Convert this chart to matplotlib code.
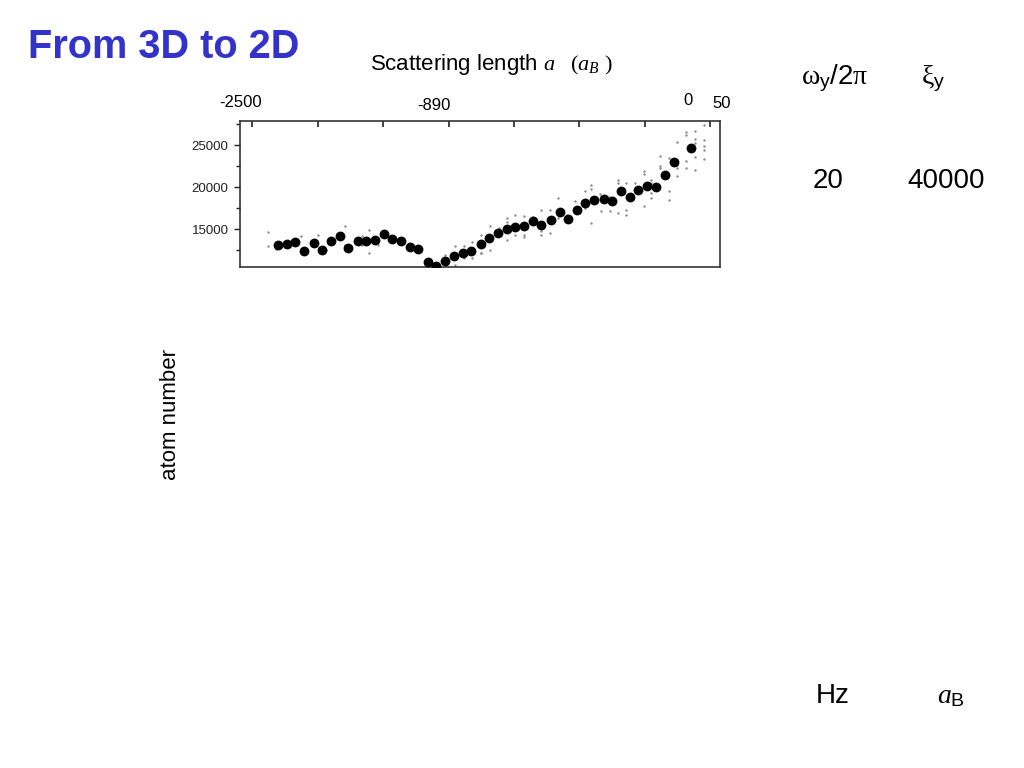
import matplotlib
matplotlib.use("Agg")
import matplotlib.pyplot as plt
from matplotlib.ticker import FixedLocator

plt.rcParams['font.family'] = ['Liberation Sans', 'DejaVu Sans']
plt.rcParams['mathtext.fontset'] = 'custom'
plt.rcParams['mathtext.rm'] = 'Liberation Serif'
plt.rcParams['mathtext.it'] = 'Liberation Serif:italic'
plt.rcParams['mathtext.sf'] = 'Liberation Sans'
plt.rcParams['mathtext.bf'] = 'Liberation Serif:bold'

# ---- data (x in arbitrary field units = top-tick index) ----
mean_x = [0.40, 0.53, 0.66, 0.79, 0.94, 1.07, 1.20, 1.34, 1.47, 1.61, 1.74, 1.88,
          2.01, 2.14, 2.28, 2.41, 2.54, 2.68, 2.81, 2.95, 3.08, 3.22, 3.35, 3.49,
          3.62, 3.76, 3.89, 4.02, 4.16, 4.29, 4.42, 4.56, 4.70, 4.83, 4.96, 5.09,
          5.23, 5.37, 5.50, 5.64, 5.77, 5.90, 6.04, 6.17, 6.31, 6.45, 6.70]
mean_n = [13056, 13214, 13452, 12420, 13333, 12500, 13571, 14167, 12738, 13611,
          13611, 13730, 14365, 13849, 13571, 12857, 12579, 11032, 10595, 11230,
          11746, 12183, 12381, 13254, 13968, 14484, 14960, 15198, 15397, 15952,
          15516, 16111, 17063, 16190, 17262, 18135, 18413, 18571, 18333, 19524,
          18770, 19643, 20079, 20000, 21429, 23016, 24643]

raw_x = [0.240, 0.240, 0.367, 0.367, 0.495, 0.740, 1.005, 1.132, 1.412, 1.412,
         1.677, 1.677, 1.784, 1.784, 1.922, 2.941, 3.094, 3.094, 3.232, 3.232,
         3.364, 3.364, 3.502, 3.502,
         3.492, 3.640, 3.640, 3.767, 3.767, 3.894, 3.894, 3.894, 4.022, 4.022,
         4.149, 4.149, 4.149, 4.292, 4.419, 4.419, 4.419, 4.547, 4.547, 4.674,
         4.674, 4.817, 4.817, 4.939, 4.939, 5.082, 5.082, 5.184, 5.184, 5.184,
         5.311, 5.337, 5.464, 5.464, 5.592, 5.592, 5.592, 5.719, 5.719, 5.719,
         5.847, 5.847, 5.984, 5.984, 5.984, 6.101, 6.101, 6.101, 6.101, 6.229,
         6.229, 6.229, 6.366, 6.366, 6.366, 6.494, 6.494, 6.494, 6.494, 6.637,
         6.637, 6.637, 6.637, 6.764, 6.764, 6.764, 6.764, 6.764, 6.902, 6.902,
         6.902, 6.902, 6.902]
raw_n = [14601, 12970, 13448, 12652, 13448, 14124, 14323, 12533, 15318, 13130,
         14124, 13050, 14920, 12175, 13050, 11936, 13010, 10743, 13010, 11538,
         13488, 11538, 14244, 12175,
         12135, 15397, 12453, 15119, 14522, 16312, 15835, 13726, 16630, 14323,
         16511, 14323, 14045, 16431, 17306, 14801, 14244, 17306, 14522, 18699,
         16312, 16710, 16312, 18301, 17107, 19574, 17505, 20290, 19773, 15715,
         19176, 17107, 18778, 17107, 20887, 20489, 16909, 20489, 17306, 16710,
         20489, 19693, 21881, 21563, 17704, 20887, 20489, 19295, 18699, 23671,
         22478, 22279, 23472, 19494, 18500, 25382, 22677, 22279, 21284, 26575,
         26178, 23154, 22279, 26655, 25780, 25263, 23552, 22080, 27450, 25660,
         24865, 24467, 23393]

y_major = [15000, 20000, 25000]
y_minor = [12500, 17500, 22500, 27500]
top_ticks = [0, 1, 2, 3, 4, 5, 6, 7]

top_labels = ["-2500", "-890", "0", "50"]
top_label_px = [241, 434, 688, 722]
top_label_base = [107, 110, 105, 108]

W, H = 1024, 768
fig = plt.figure(figsize=(W / 100, H / 100), dpi=100)
fig.patch.set_facecolor('white')

ax = fig.add_axes([239.7 / W, 1 - 267 / H, (720 - 239.7) / W, (267 - 120.7) / H])
ax.scatter(raw_x, raw_n, s=3, color='#8a8a8a', zorder=2, linewidths=0)
ax.scatter(mean_x, mean_n, s=50, color='black', zorder=3, linewidths=0)
ax.set_xlim(-0.193, 7.15)
ax.set_ylim(10465, 27936)

ax.yaxis.set_major_locator(FixedLocator(y_major))
ax.yaxis.set_minor_locator(FixedLocator(y_minor))
ax.tick_params(axis='y', which='major', direction='out', length=4, width=1,
               labelsize=9.5, pad=4, colors='#222222')
ax.tick_params(axis='y', which='minor', direction='out', length=3, width=1,
               colors='#222222')
ax.xaxis.set_major_locator(FixedLocator(top_ticks))
ax.tick_params(axis='x', which='both', top=True, bottom=False, labeltop=False,
               labelbottom=False, direction='in', length=4, width=1.2,
               colors='#222222')
for sp in ax.spines.values():
    sp.set_linewidth(1.2)
    sp.set_color('#333333')

# top scattering-length labels
for lab, px, py in zip(top_labels, top_label_px, top_label_base):
    fig.text(px / W, 1 - py / H, lab, ha='center', va='baseline', fontsize=12)

# title
fig.text(28 / W, 1 - 58 / H, "From 3D to 2D", fontsize=28.6, fontweight='bold',
         color='#3333CC', ha='left', va='baseline')

fig.text(370 / W, 1 - 70 / H, r"Scattering length $a\ \ \ (a_B\ )$",
         fontsize=16, ha='left', va='baseline')

fig.text(171 / W, 1 - 415 / H, "atom number", rotation=90, fontsize=16,
         ha='center', va='center')

fig.text(801 / W, 1 - 84 / H, r"$\mathrm{\omega}_{\mathsf{y}}$/2$\mathrm{\pi}$",
         fontsize=20, ha='left', va='baseline')
fig.text(921 / W, 1 - 84 / H, r"$\mathrm{\xi}_{\mathsf{y}}$",
         fontsize=20, ha='left', va='baseline')
fig.text(828 / W, 1 - 188 / H, "20", fontsize=20, ha='center', va='baseline')
fig.text(946 / W, 1 - 188 / H, "40000", fontsize=20, ha='center', va='baseline')
fig.text(833 / W, 1 - 703 / H, "Hz", fontsize=20, ha='center', va='baseline')
fig.text(937 / W, 1 - 703 / H, r"$a_{\mathsf{B}}$", fontsize=20, ha='left',
         va='baseline')

fig.savefig("out.png", dpi=100, facecolor='white')
